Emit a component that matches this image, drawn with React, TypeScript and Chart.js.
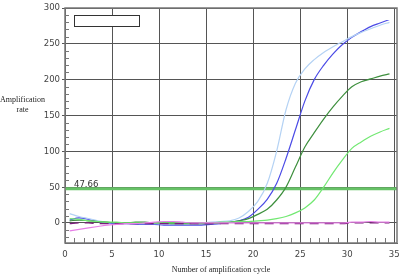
import React, { useEffect, useRef } from "react";
import { Chart, registerables } from "chart.js";

Chart.register(...registerables);

const cycles = [0.5,1.5,2.5,3.5,4.5,5.5,6.5,7.5,8.5,9.5,10.5,11.5,12.5,13.5,14.5,15.5,16.5,17.5,18.5,19.5,20.5,21.5,22.5,23.5,24.5,25.5,26.5,27.5,28.5,29.5,30.5,31.5,32.5,33.5,34.5];
const lightBlue = [13,9,6,3,1,0,-1,-1,-1,-1,-1,-1,-1,-1,0,1,2,3,7,16,30,55,100,158,195,215,228,238,246,253,260,266,271,276,280];
const blue = [4,7,5,2,0,-1,-1,-2,-2,-2,-3,-3,-3,-3,-3,-2,-1,1,3,8,19,33,55,90,130,170,200,220,236,249,259,267,274,279,284];
const darkGreen = [3,4,3,2,1,0,0,1,1,0,0,-1,-1,-1,-1,-1,0,1,3,6,12,19,32,50,78,106,126,145,162,177,190,197,201,205,208];
const lightGreen = [6,5,3,2,1,1,0,0,0,0,0,0,0,0,0,0,1,1,2,2,3,4,6,9,14,21,32,50,70,88,104,113,121,127,132];
const pink = [-11,-9,-7,-5,-3,-2,-1,-1,0,1,2,2,1,0,0,0,0,0,0,0,0,0,0,0,0,0,0,0,0,0,1,1,2,1,1];
const purple = [-1,0,0,-1,-1,-1,-1,-1,-1,-1,-1,-1,-1,-1,-1,-1,-1,-1,-1,-1,-1,-1,-1,-1,-1,-1,-1,-1,-1,-1,0,0,0,0,0];
const xTicks = [0,5,10,15,20,25,30,35];
const yTicks = [0,50,100,150,200,250,300];
const threshold = 47.66;
const thresholdLabel = "47.66";
const xTitle = "Number of amplification cycle";
const yTitle = ["Amplification", "rate"];

const tickFont = "'Liberation Sans Narrow', 'Arial Narrow', 'DejaVu Sans Condensed', sans-serif";
const titleFont = "'Liberation Serif', 'DejaVu Serif', serif";

function mk(data: number[], color: string, extra: any = {}) {
  return {
    data: cycles.map((c, i) => ({ x: c, y: data[i] })),
    borderColor: color,
    backgroundColor: color,
    borderWidth: 1.2,
    pointRadius: 0,
    cubicInterpolationMode: "monotone",
    fill: false,
    ...extra,
  };
}

const decor = {
  id: "decor",
  beforeDatasetsDraw(chart: any) {
    const { ctx, chartArea: a, scales } = chart;
    const x = scales.x, y = scales.y;
    ctx.save();
    ctx.strokeStyle = "#777";
    ctx.lineWidth = 1;
    ctx.beginPath();
    for (let v = 1; v <= 35; v++) {
      if (v % 5 === 0) continue;
      const px = Math.round(x.getPixelForValue(v)) + 0.5;
      ctx.moveTo(px, a.bottom);
      ctx.lineTo(px, a.bottom - 5);
    }
    for (let v = -20; v <= 300; v += 10) {
      if (v % 50 === 0) continue;
      const py = Math.round(y.getPixelForValue(v)) + 0.5;
      ctx.moveTo(a.left, py);
      ctx.lineTo(a.left + 4, py);
    }
    ctx.stroke();
    const ty = y.getPixelForValue(threshold);
    ctx.strokeStyle = "#66c266";
    ctx.lineWidth = 3;
    ctx.beginPath();
    ctx.moveTo(a.left, ty);
    ctx.lineTo(a.right, ty);
    ctx.stroke();
    ctx.fillStyle = "#333";
    ctx.font = "9.5px " + tickFont;
    ctx.textAlign = "left";
    ctx.textBaseline = "alphabetic";
    ctx.fillText(thresholdLabel, a.left + 9, ty - 1.5);
    ctx.restore();
  },
  afterDraw(chart: any) {
    const { ctx, chartArea: a } = chart;
    ctx.save();
    ctx.strokeStyle = "#777";
    ctx.lineWidth = 1.5;
    ctx.strokeRect(a.left, a.top, a.right - a.left, a.bottom - a.top);
    ctx.fillStyle = "#fff";
    ctx.fillRect(74.5, 15.5, 65, 11);
    ctx.strokeStyle = "#333";
    ctx.lineWidth = 1;
    ctx.strokeRect(74.5, 15.5, 65, 11);
    ctx.fillStyle = "#222";
    ctx.font = "8px " + titleFont;
    ctx.textAlign = "center";
    ctx.textBaseline = "alphabetic";
    ctx.fillText(yTitle[0], 22.5, 102);
    ctx.fillText(yTitle[1], 22.5, 112);
    ctx.fillText(xTitle, 221, 272);
    ctx.restore();
  },
};

export default function App() {
  const ref = useRef<HTMLCanvasElement | null>(null);
  useEffect(() => {
    if (!ref.current) return;
    const chart = new Chart(ref.current, {
      type: "line",
      data: {
        datasets: [
          mk(pink, "#e67ee6"),
          mk(purple, "#7a1a7a", { borderDash: [9, 6] }),
          mk(lightGreen, "#72e872"),
          mk(darkGreen, "#3d8f3d"),
          mk(lightBlue, "#b4d2f4"),
          mk(blue, "#4b4be6"),
        ],
      },
      options: {
        responsive: false,
        animation: false,
        layout: { padding: { top: 8, right: 10, left: 0, bottom: 0 } },
        plugins: { legend: { display: false }, tooltip: { enabled: false } },
        scales: {
          x: {
            type: "linear",
            min: 0,
            max: 35.3,
            afterBuildTicks: (s: any) => { s.ticks = xTicks.map((v) => ({ value: v })); },
            afterFit: (s: any) => { s.height = 31; },
            grid: { color: "#555", lineWidth: 1, drawTicks: false },
            border: { color: "#555" },
            ticks: { padding: 6, color: "#444", font: { family: tickFont, size: 9.5 }, maxRotation: 0 },
          },
          y: {
            type: "linear",
            min: -28,
            max: 300,
            afterBuildTicks: (s: any) => { s.ticks = yTicks.map((v) => ({ value: v })); },
            afterFit: (s: any) => { s.width = 65; },
            grid: { color: "#555", lineWidth: 1, tickLength: 3 },
            border: { color: "#555" },
            ticks: { padding: 2, color: "#444", font: { family: tickFont, size: 9.5 } },
          },
        },
      },
      plugins: [decor],
    });
    return () => chart.destroy();
  }, []);
  return (
    <div style={{ position: "absolute", left: 0, top: 0, width: 407, height: 274, background: "#fff" }}>
      <canvas ref={ref} width={407} height={274} />
    </div>
  );
}
